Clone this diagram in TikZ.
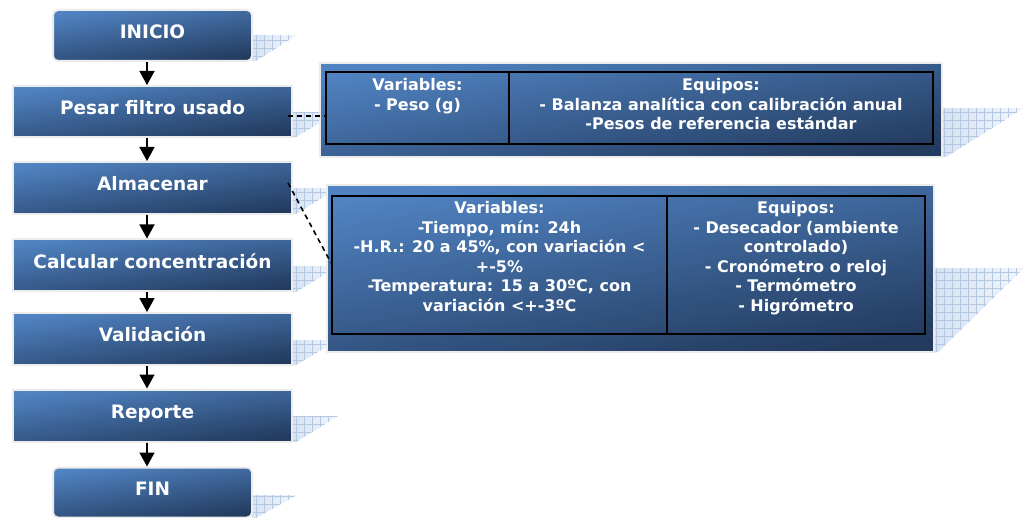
\documentclass[tikz,border=0pt]{standalone}
\usepackage{fontspec}
\setmainfont{DejaVu Sans}
\usetikzlibrary{arrows.meta}
\definecolor{boxlight}{RGB}{80,131,194}
\definecolor{boxdark}{RGB}{35,59,95}
\definecolor{boxrim}{RGB}{236,236,236}
\definecolor{shfill}{RGB}{214,227,243}
\definecolor{shgrid}{RGB}{180,200,228}
\newcommand\gridshadow[4]{%
  \begin{scope}
    \clip (#1,#2) -- (#1+#3,#2) -- (#1+4,#4) -- (#1,#4) -- cycle;
    \shade[left color=shfill, right color=shfill!35] (#1,#2) rectangle (#1+#3,#4);
    \draw[shgrid, line width=0.35pt, step=8pt] (#1,#2) grid (#1+#3,#4);
  \end{scope}}
\tikzset{
  flowbox/.style={draw=boxrim, line width=2pt, top color=boxlight, bottom color=boxdark,
    shading angle=8, text=white, inner sep=0pt,
    font=\fontsize{18.5}{22}\selectfont\bfseries, text height=13.5pt, text depth=8pt},
  panel/.style={draw=boxrim, line width=2pt, top color=boxlight, bottom color=boxdark,
    shading angle=10, inner sep=0pt},
  grid box/.style={draw=black, line width=1.8pt, inner sep=0pt},
  tabtext/.style={text=white, inner sep=0pt, anchor=north, align=center,
    font=\fontsize{16}{19.5}\selectfont\bfseries},
  arr/.style={-{Triangle[width=15pt,length=14pt]}, line width=1.5pt, black},
  conn/.style={line width=1.6pt, dash pattern=on 5pt off 4pt, black}
}
\begin{document}
\begin{tikzpicture}[x=1pt,y=-1pt]
\useasboundingbox[fill=white] (0,0) rectangle (1024,518);

% shadows
\gridshadow{252}{35}{45}{61}
\gridshadow{292}{112}{46}{137}
\gridshadow{292}{188}{46}{214}
\gridshadow{292}{266}{46}{292}
\gridshadow{292}{340}{46}{365}
\gridshadow{292}{416}{46}{442}
\gridshadow{252}{495}{45}{518}
\gridshadow{942}{108}{82}{157}
\gridshadow{934}{268}{90}{352}

% flow boxes
\node[flowbox, rounded corners=5pt, minimum width=199pt, minimum height=51pt] (inicio) at (152.5,35.5) {INICIO};
\node[flowbox, minimum width=279pt, minimum height=51pt] (pesar) at (152.5,111.5) {Pesar filtro usado};
\node[flowbox, minimum width=279pt, minimum height=52pt] (alm) at (152.5,188) {Almacenar};
\node[flowbox, minimum width=279pt, minimum height=52pt] (calc) at (152.5,265.5) {Calcular concentración};
\node[flowbox, minimum width=279pt, minimum height=52pt] (valid) at (152.5,339) {Validación};
\node[flowbox, minimum width=279pt, minimum height=52pt] (rep) at (152.5,415.5) {Reporte};
\node[flowbox, rounded corners=5pt, minimum width=199pt, minimum height=50pt] (fin) at (152.5,492.5) {FIN};

% panel 1
\node[panel, minimum width=622pt, minimum height=94pt] (p1) at (631,110) {};
\node[grid box, minimum width=607pt, minimum height=72pt] (t1) at (629.5,108) {};
\draw[line width=1.8pt] ([xshift=-120.5pt]t1.north) -- ([xshift=-120.5pt]t1.south);
\node[tabtext] (t1var) at (417.5,78.6) {Variables:\\- Peso (g)};
\node[tabtext] (t1eq) at (721,78.6) {Equipos:\\- Balanza analítica con calibración anual\\-Pesos de referencia estándar};

% panel 2
\node[panel, minimum width=607pt, minimum height=167pt] (p2) at (630.5,268.5) {};
\node[grid box, minimum width=593pt, minimum height=138pt] (t2) at (628.5,265) {};
\draw[line width=1.8pt] ([xshift=38.5pt]t2.north) -- ([xshift=38.5pt]t2.south);
\node[tabtext] (t2var) at (499.5,201.6) {Variables:\\-Tiempo, mín: 24h\\-H.R.: 20 a 45\%, con variación <\\+-5\%\\-Temperatura: 15 a 30ºC, con\\variación <+-3ºC};
\node[tabtext] (t2eq) at (796,201.6) {Equipos:\\- Desecador (ambiente\\controlado)\\- Cronómetro o reloj\\- Termómetro\\- Higrómetro};

% arrows
\draw[arr] ([xshift=-5.5pt]inicio.south) -- ([xshift=-5.5pt]pesar.north);
\draw[arr] ([xshift=-5.5pt]pesar.south) -- ([xshift=-5.5pt]alm.north);
\draw[arr] ([xshift=-5.5pt]alm.south) -- ([xshift=-5.5pt]calc.north);
\draw[arr] ([xshift=-5.5pt]calc.south) -- ([xshift=-5.5pt]valid.north);
\draw[arr] ([xshift=-5.5pt]valid.south) -- ([xshift=-5.5pt]rep.north);
\draw[arr] ([xshift=-5.5pt]rep.south) -- ([xshift=-5.5pt]fin.north);

% dashed connectors
\draw[conn] ([xshift=-5pt,yshift=-4.5pt]pesar.east) -- ([yshift=-4.5pt]t1.west |- pesar.east);
\draw[conn] ([xshift=-5pt,yshift=5pt]alm.east) -- ([yshift=2pt]t2.west);
\end{tikzpicture}
\end{document}
